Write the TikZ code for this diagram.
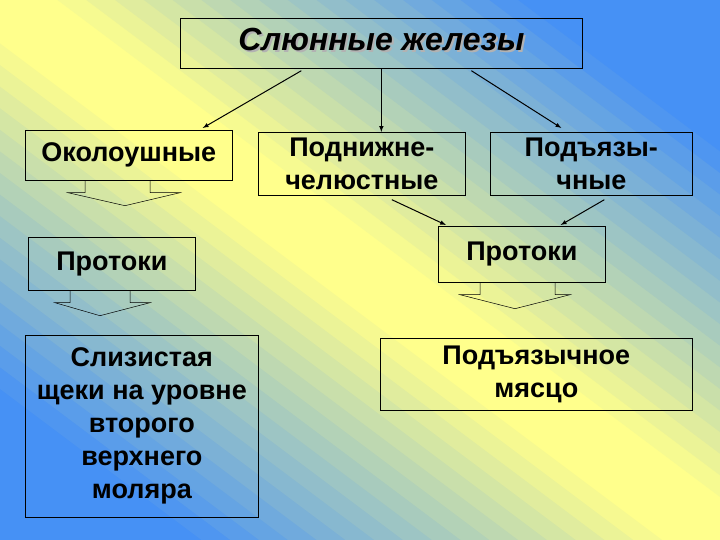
\documentclass[tikz,border=0pt]{standalone}
\usepackage{fontspec}
\setmainfont{Liberation Sans}
\usetikzlibrary{calc}
\definecolor{bgblue}{RGB}{70,145,245}
\definecolor{bgyel}{RGB}{255,255,140}
\begin{document}
\begin{tikzpicture}[x=1pt,y=-1pt,
  box/.style={draw=black,line width=0.7pt,inner sep=0pt,font=\bfseries\fontsize{27}{33}\selectfont,align=center,anchor=north west},
  arr/.style={draw,line width=1pt,-latex},
  blk/.style={draw,line width=0.5pt}]
\useasboundingbox (0,0) rectangle (720,540);
\begin{scope}[x=720pt,y=-540pt]
\clip (0,0) rectangle (1,1);
\foreach \v in {-1.00,-0.96,...,1.00} {
  \pgfmathsetmacro\p{max(0,min(100,110-abs(\v+0.02)*150))}
  \fill[bgyel!\p!bgblue] (\v-1,-1) -- (\v+2,2) -- (\v+2.045,2) -- (\v-0.955,-1) -- cycle;
}
\end{scope}
\node[box,minimum width=402pt,minimum height=50pt] (t) at (180,18) {};
\node[font=\bfseries\itshape\fontsize{32}{36}\selectfont,text=gray!60] (ts) at ($(t.center)+(2,-2)$) {Слюнные железы};
\node[font=\bfseries\itshape\fontsize{32}{36}\selectfont] (tt) at ($(t.center)+(0,-4)$) {Слюнные железы};
\node[box,minimum width=207pt,minimum height=50pt] (o) at (25,130) {Околоушные};
\node[box,minimum width=207pt,minimum height=63pt] (p) at (258,132) {Поднижне-\\челюстные};
\node[box,minimum width=202pt,minimum height=63pt] (s) at (490,132) {Подъязы-\\чные};
\node[box,minimum width=167pt,minimum height=53pt] (d1) at (28,237) {Протоки};
\node[box,minimum width=167pt,minimum height=56pt] (d2) at (438,226) {Протоки};
\node[box,minimum width=233pt,minimum height=182pt] (m) at (25,335) {Слизистая\\щеки на уровне\\второго\\верхнего\\моляра};
\node[box,minimum width=312pt,minimum height=72pt] (n) at (380,338) {Подъязычное\\мясцо};
\draw[arr] (t.south) -- (t.south |- p.north);
\draw[arr] ($(t.south)+(-80,2)$) -- ($(o.north east)+(-30,-2)$);
\draw[arr] ($(t.south)+(90,2)$) -- ($(s.north)+(-30,-4)$);
\draw[arr] ($(p.south)+(30,4)$) -- ($(d2.north west)+(8,-1)$);
\draw[arr] ($(s.south)+(13,4)$) -- ($(d2.north east)+(-45,-1)$);
\draw[blk] ($(o.south west)+(60,0)$) -- ++(0,12) -- ++(-17,0) -- ++(57,13) -- ++(55,-13) -- ++(-30,0) -- ++(0,-12);
\draw[blk] ($(d1.south west)+(42,0)$) -- ++(0,12) -- ++(-15,0) -- ++(45,13) -- ++(50,-13) -- ++(-20,0) -- ++(0,-12);
\draw[blk] ($(d2.south west)+(42,0)$) -- ++(0,12) -- ++(-20,0) -- ++(55,14) -- ++(55,-14) -- ++(-15,0) -- ++(0,-12);
\end{tikzpicture}
\end{document}
